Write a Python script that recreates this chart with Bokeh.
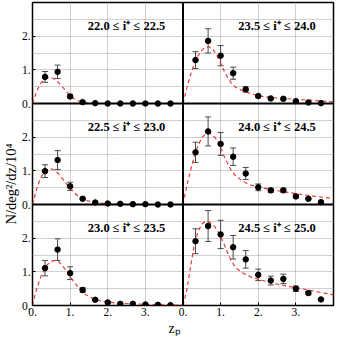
from bokeh.plotting import figure
from bokeh.models import (Range1d, LinearAxis, FixedTicker, Grid, Span, Label,
                          ColumnDataSource, Whisker, TeeHead, Title)
from bokeh.embed import file_html
from bokeh.resources import INLINE

# ---------------- data ----------------
z_bins = [0.333, 0.667, 1.0, 1.333, 1.667, 2.0, 2.333, 2.667, 3.0, 3.333, 3.667]

labels = ["22.0 \u2264 i\u207a \u2264 22.5", "23.5 \u2264 i\u207a \u2264 24.0",
          "22.5 \u2264 i\u207a \u2264 23.0", "24.0 \u2264 i\u207a \u2264 24.5",
          "23.0 \u2264 i\u207a \u2264 23.5", "24.5 \u2264 i\u207a \u2264 25.0"]

n_220 = [0.79, 0.94, 0.21, 0.04, 0.01, 0.0, 0.0, 0.0, 0.0, 0.0, 0.0]
e_220 = [0.16, 0.20, 0.05, 0.02, 0.01, 0.0, 0.0, 0.0, 0.0, 0.0, 0.0]
n_225 = [0.99, 1.32, 0.54, 0.17, 0.06, 0.03, 0.02, 0.01, 0.01, 0.0, 0.0]
e_225 = [0.19, 0.28, 0.12, 0.03, 0.02, 0.01, 0.0, 0.0, 0.0, 0.0, 0.0]
n_230 = [1.11, 1.66, 0.96, 0.46, 0.17, 0.09, 0.05, 0.05, 0.03, 0.02, 0.01]
e_230 = [0.23, 0.32, 0.19, 0.07, 0.03, 0.02, 0.01, 0.01, 0.01, 0.0, 0.0]
n_235 = [1.29, 1.86, 1.42, 0.90, 0.42, 0.22, 0.15, 0.14, 0.07, 0.03, 0.01]
e_235 = [0.25, 0.36, 0.30, 0.18, 0.08, 0.05, 0.03, 0.03, 0.02, 0.01, 0.01]
n_240 = [1.55, 2.17, 1.80, 1.42, 0.92, 0.51, 0.42, 0.42, 0.24, 0.17, 0.07]
e_240 = [0.30, 0.43, 0.34, 0.26, 0.18, 0.10, 0.06, 0.06, 0.04, 0.03, 0.02]
n_245 = [1.91, 2.36, 2.11, 1.73, 1.37, 0.91, 0.74, 0.79, 0.50, 0.37, 0.18]
e_245 = [0.37, 0.46, 0.42, 0.35, 0.26, 0.17, 0.13, 0.14, 0.08, 0.05, 0.03]

z_model = [0.0, 0.1, 0.2, 0.3, 0.4, 0.5, 0.6, 0.7, 0.8, 0.9, 1.0, 1.1, 1.2, 1.3,
           1.4, 1.6, 1.8, 2.0, 2.4, 2.8, 3.2, 3.6, 4.0]
m_220 = [0, 0.33, 0.57, 0.71, 0.77, 0.77, 0.72, 0.61, 0.49, 0.36, 0.24, 0.15,
         0.09, 0.05, 0.02, 0.01, 0, 0, 0, 0, 0, 0, 0]
m_225 = [0, 0.42, 0.75, 0.95, 1.04, 1.06, 1.01, 0.90, 0.76, 0.62, 0.48, 0.36,
         0.26, 0.18, 0.13, 0.07, 0.04, 0.02, 0.01, 0, 0, 0, 0]
m_230 = [0, 0.45, 0.80, 1.05, 1.22, 1.31, 1.34, 1.30, 1.18, 1.03, 0.87, 0.70,
         0.56, 0.42, 0.33, 0.21, 0.14, 0.10, 0.06, 0.04, 0.03, 0.02, 0.01]
m_235 = [0, 0.45, 0.85, 1.18, 1.42, 1.58, 1.68, 1.68, 1.60, 1.42, 1.20, 0.95,
         0.75, 0.58, 0.48, 0.37, 0.29, 0.23, 0.17, 0.14, 0.11, 0.08, 0.05]
m_240 = [0, 0.55, 1.00, 1.45, 1.75, 1.98, 2.10, 2.12, 2.05, 1.92, 1.70, 1.42,
         1.18, 0.98, 0.85, 0.68, 0.58, 0.52, 0.43, 0.36, 0.29, 0.23, 0.18]
m_245 = [0, 0.45, 1.15, 1.80, 2.20, 2.42, 2.50, 2.48, 2.40, 2.25, 2.05, 1.80,
         1.52, 1.30, 1.12, 0.96, 0.85, 0.78, 0.66, 0.57, 0.49, 0.40, 0.32]

x_tick_labels = ["0.", "1.", "2.", "3."]
y_tick_labels = ["0.", "1.", "2."]
y_title = "N/deg\u00b2/dz/10\u2074"
x_title = "z\u209a"

FONT = "Liberation Serif"

# panel -> (label, n, err, model, x range name, y range name)
panels = [
    (labels[0], n_220, e_220, m_220, "default", "top"),
    (labels[1], n_235, e_235, m_235, "right", "top"),
    (labels[2], n_225, e_225, m_225, "default", "mid"),
    (labels[3], n_240, e_240, m_240, "right", "mid"),
    (labels[4], n_230, e_230, m_230, "default", "default"),
    (labels[5], n_245, e_245, m_245, "right", "default"),
]

# ---------------- figure ----------------
p = figure(width=335, height=336, output_backend="svg", toolbar_location=None,
           x_range=Range1d(0, 8), y_range=Range1d(0, 9),
           x_axis_location=None, y_axis_location=None,
           min_border_left=31, min_border_right=2, min_border_top=2,
           min_border_bottom=31)
p.extra_x_ranges = {"right": Range1d(-4, 4)}
p.extra_y_ranges = {"top": Range1d(-6, 3), "mid": Range1d(-3, 6)}
p.outline_line_color = "black"
p.outline_line_width = 1.5
p.background_fill_color = "white"
p.border_fill_color = "white"
for g in p.grid:
    g.visible = False

# grids (dotted)
xg_ticks = [1, 2, 3, 5, 6, 7]
yg_ticks = [k * 0.5 for k in range(1, 18) if k not in (6, 12)]
p.add_layout(Grid(dimension=0, ticker=FixedTicker(ticks=xg_ticks),
                  grid_line_color="#a0a0a0", grid_line_dash="1 1", grid_line_width=1))
p.add_layout(Grid(dimension=1, ticker=FixedTicker(ticks=yg_ticks),
                  grid_line_color="#a0a0a0", grid_line_dash="1 1", grid_line_width=1))

# axes
nrows = 3
yt = list(range(len(y_tick_labels) * nrows))
yax = LinearAxis(ticker=FixedTicker(ticks=yt, minor_ticks=[]),
                 major_label_overrides={t: y_tick_labels[t % 3] for t in yt})
xt = list(range(len(x_tick_labels) * 2))
xax = LinearAxis(ticker=FixedTicker(ticks=xt, minor_ticks=[]),
                 major_label_overrides={t: x_tick_labels[t % 4] for t in xt})
for ax in (xax, yax):
    ax.axis_line_color = None
    ax.major_tick_in = 3
    ax.major_tick_out = 0
    ax.minor_tick_in = 0
    ax.minor_tick_out = 0
    ax.major_tick_line_color = "black"
    ax.major_label_text_font = FONT
    ax.major_label_text_font_size = "11.5px"
    ax.major_label_text_color = "black"
    ax.major_label_standoff = 2
p.add_layout(yax, "left")
p.add_layout(xax, "below")

# figure-level axis titles
p.add_layout(Title(text=y_title, align="left", offset=81, standoff=0,
                   text_font=FONT, text_font_size="14.5px",
                   text_font_style="normal", text_color="black"), "left")
p.add_layout(Title(text=x_title, align="left", offset=136, standoff=0,
                   text_font=FONT, text_font_size="14px",
                   text_font_style="normal", text_color="black"), "below")

# panel dividers
p.add_layout(Span(location=4, dimension="height", line_color="black", line_width=2))
p.add_layout(Span(location=3, dimension="width", line_color="black", line_width=2))
p.add_layout(Span(location=6, dimension="width", line_color="black", line_width=2))

# panels
for text, n, err, model, xr, yr in panels:
    src = ColumnDataSource(dict(
        z=z_bins, n=n,
        upper=[a + b for a, b in zip(n, err)],
        lower=[a - b for a, b in zip(n, err)]))
    p.line(z_model, model, x_range_name=xr, y_range_name=yr,
           line_color="#ee2a2a", line_dash="4 3", line_width=1.1)
    w = Whisker(source=src, base="z", upper="upper", lower="lower",
                dimension="height", line_color="#4a4a4a", line_width=1,
                upper_head=TeeHead(size=6, line_color="#4a4a4a", line_width=1),
                lower_head=TeeHead(size=6, line_color="#4a4a4a", line_width=1),
                x_range_name=xr, y_range_name=yr)
    p.add_layout(w)
    p.scatter("z", "n", source=src, size=5.5, color="black",
              x_range_name=xr, y_range_name=yr)
    p.add_layout(Label(x=3.53, y=2.3, text=text, x_range_name=xr, y_range_name=yr,
                       text_align="right", text_baseline="middle",
                       text_font=FONT, text_font_size="12.5px",
                       text_font_style="bold", text_color="black"))

open("out.html", "w").write(file_html(p, INLINE))
